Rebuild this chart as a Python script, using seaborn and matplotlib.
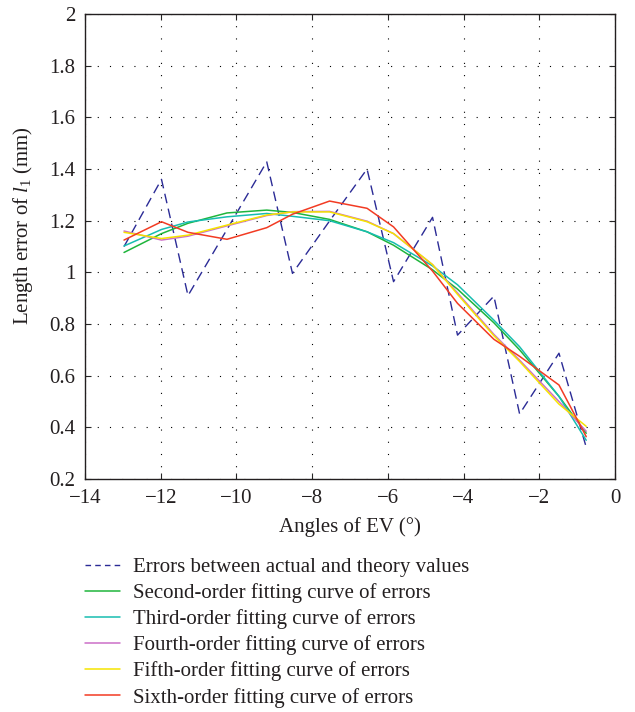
import seaborn as sns
import matplotlib.pyplot as plt
import pandas as pd
import numpy as np
from matplotlib.lines import Line2D

# Data
angles = [-12.97, -11.98, -11.28, -10.25, -9.2, -8.52, -7.54, -6.55,
          -5.85, -4.82, -4.16, -3.2, -2.52, -1.48, -0.76]
actual_err = [1.10, 1.36, 0.91, 1.166, 1.428, 0.996, 1.199, 1.40,
              0.964, 1.213, 0.757, 0.908, 0.452, 0.687, 0.323]
fit2 = [1.077, 1.150, 1.190, 1.230, 1.241, 1.232, 1.205, 1.157,
        1.105, 1.010, 0.935, 0.805, 0.700, 0.520, 0.377]
fit3 = [1.102, 1.166, 1.195, 1.215, 1.228, 1.217, 1.200, 1.157,
        1.115, 1.025, 0.952, 0.815, 0.712, 0.520, 0.350]
fit4 = [1.160, 1.125, 1.140, 1.180, 1.220, 1.235, 1.236, 1.198,
        1.150, 1.030, 0.920, 0.760, 0.660, 0.500, 0.385]
fit5 = [1.155, 1.131, 1.144, 1.183, 1.222, 1.234, 1.234, 1.196,
        1.150, 1.030, 0.915, 0.755, 0.655, 0.490, 0.404]
fit6 = [1.125, 1.196, 1.155, 1.128, 1.173, 1.225, 1.276, 1.248,
        1.176, 1.005, 0.880, 0.741, 0.675, 0.564, 0.364]

labels = ['Errors between actual and theory values',
          'Second-order fitting curve of errors',
          'Third-order fitting curve of errors',
          'Fourth-order fitting curve of errors',
          'Fifth-order fitting curve of errors',
          'Sixth-order fitting curve of errors']
colors = ['#2B2B96', '#1FB53C', '#17BDB0', '#CC6FC8', '#F5E400', '#F23B23']

series = [actual_err, fit2, fit3, fit4, fit5, fit6]

sns.set_style('ticks')
plt.rcParams['font.family'] = ['Liberation Serif', 'DejaVu Serif']
plt.rcParams['mathtext.fontset'] = 'custom'
plt.rcParams['mathtext.rm'] = 'Liberation Serif'
plt.rcParams['mathtext.it'] = 'Liberation Serif:italic'
plt.rcParams['font.size'] = 15
txt = '#231F20'
plt.rcParams['text.color'] = txt
plt.rcParams['axes.labelcolor'] = txt
plt.rcParams['xtick.labelcolor'] = txt
plt.rcParams['ytick.labelcolor'] = txt

fig = plt.figure(figsize=(6.35, 7.12), dpi=100)
ax = fig.add_axes([0.1339, 0.3272, 0.8346, 0.6531])

handles = []
for i, (vals, lab, col) in enumerate(zip(series, labels, colors)):
    df = pd.DataFrame({'x': angles, 'y': vals})
    if i == 0:
        sns.lineplot(data=df, x='x', y='y', ax=ax, color=col, lw=1.0,
                     linestyle=(0, (7, 4)), zorder=3)
        handles.append(Line2D([], [], color=col, lw=1.0, linestyle=(0, (4, 3))))
    else:
        sns.lineplot(data=df, x='x', y='y', ax=ax, color=col, lw=1.1, zorder=4)
        handles.append(Line2D([], [], color=col, lw=1.1))

ax.set_xlim(-14, 0)
ax.set_ylim(0.2, 2)
xt = np.arange(-14, 1, 2)
yt = np.round(np.arange(0.2, 2.01, 0.2), 1)
ax.set_xticks(xt)
ax.set_xticklabels(['\u2212%g' % abs(v) if v < 0 else '%g' % v for v in xt])
ax.set_yticks(yt)
ax.set_yticklabels(['%g' % v for v in yt])
ax.grid(True, color='black', linestyle=(0, (1, 10)), lw=0.8)
ax.tick_params(direction='in', top=True, right=True, length=4, labelsize=15)
ax.tick_params(axis='x', pad=7)
ax.tick_params(axis='y', pad=7)
for s in ax.spines.values():
    s.set_linewidth(1.0)
    s.set_color('#231F20')

ax.set_xlabel('Angles of EV (°)', fontsize=15, labelpad=7)
ax.set_ylabel(r'Length error of $\mathit{l}_1$ (mm)', fontsize=15)
ax.yaxis.set_label_coords(-0.095, 0.546)

fig.legend(handles, labels, loc='upper left', bbox_to_anchor=(0.121, 0.229),
           frameon=False, fontsize=15, handlelength=1.68, handletextpad=0.62,
           labelspacing=0.3, borderaxespad=0)

plt.savefig('out.png', dpi=100)
